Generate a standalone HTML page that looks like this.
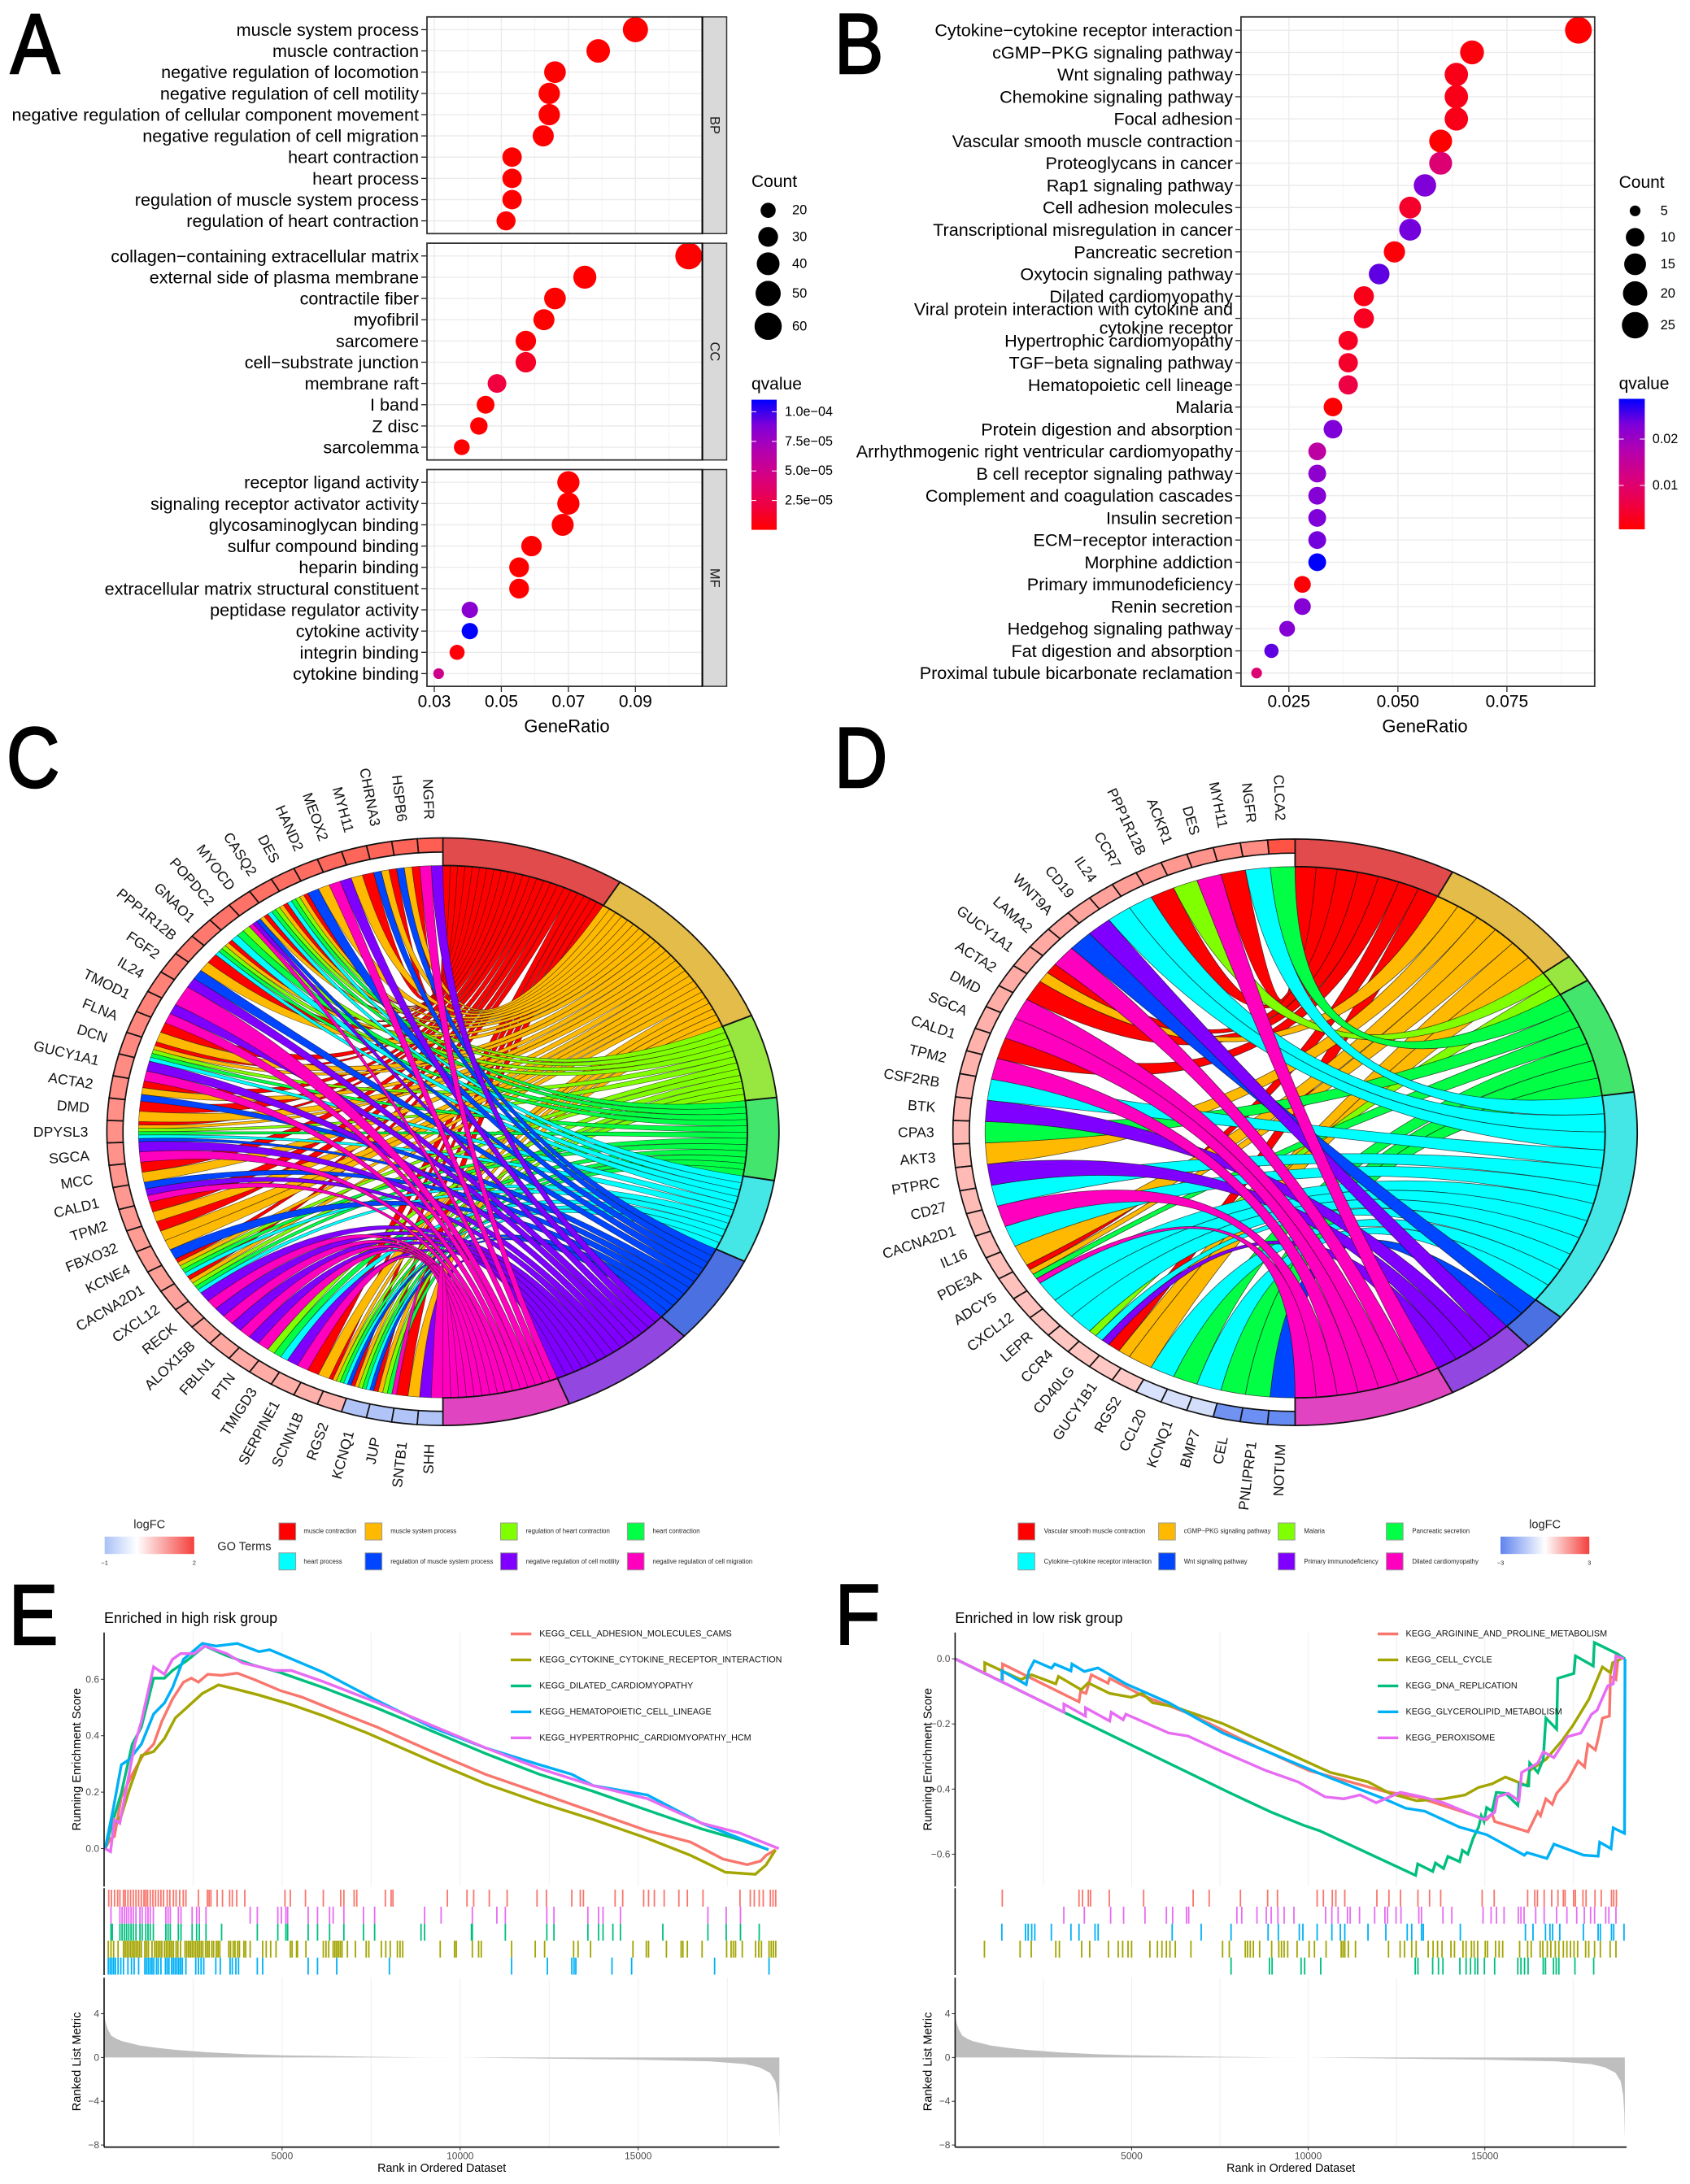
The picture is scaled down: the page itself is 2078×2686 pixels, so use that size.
<!DOCTYPE html>
<html lang="en">
<head>
<meta charset="utf-8">
<title>Enrichment analysis multi-panel figure</title>
<style>
html,body{margin:0;padding:0;background:#fff}
svg{display:block}
text{font-family:"Liberation Sans",sans-serif}
</style>
</head>
<body>
<svg id="fig" xmlns="http://www.w3.org/2000/svg" width="2078" height="2686" viewBox="0 0 2078 2686">
<defs>
<linearGradient id="qbar" x1="0" y1="1" x2="0" y2="0">
<stop offset="0" stop-color="#FF0000"/><stop offset=".2" stop-color="#EE0045"/><stop offset=".4" stop-color="#D7007F"/><stop offset=".6" stop-color="#B400AE"/><stop offset=".8" stop-color="#8000D8"/><stop offset="1" stop-color="#0000FF"/>
</linearGradient>
<linearGradient id="fcC"><stop offset="0" stop-color="#A9C1F7"/><stop offset=".36" stop-color="#FFFFFF"/><stop offset="1" stop-color="#F4403C"/></linearGradient>
<linearGradient id="fcD"><stop offset="0" stop-color="#5F83EE"/><stop offset=".5" stop-color="#FFFFFF"/><stop offset="1" stop-color="#F4403C"/></linearGradient>
</defs>
<g id="panel-a"></g>
<g id="panel-b"></g>
<g id="panel-c"></g>
<g id="panel-d"></g>
<g id="panel-e"></g>
<g id="panel-f"></g>
</svg>
<script>
/* ---------- Panel A data ---------- */
const aFacets = ["BP","CC","MF"];
const aTermsBP = ["muscle system process","muscle contraction","negative regulation of locomotion","negative regulation of cell motility","negative regulation of cellular component movement","negative regulation of cell migration","heart contraction","heart process","regulation of muscle system process","regulation of heart contraction"];
const aRatioBP = [0.09,0.0789,0.066,0.0643,0.0643,0.0625,0.0532,0.0532,0.0532,0.0514];
const aCountBP = [50,43,36,35,35,34,29,29,29,28];
const aQBP = [0,0,0,0,0,0,0,0,0,0];
const aTermsCC = ["collagen−containing extracellular matrix","external side of plasma membrane","contractile fiber","myofibril","sarcomere","cell−substrate junction","membrane raft","I band","Z disc","sarcolemma"];
const aRatioCC = [0.1059,0.0749,0.066,0.0627,0.0573,0.0573,0.0487,0.0453,0.0433,0.0382];
const aCountCC = [58,41,36,34,32,32,27,25,24,21];
const aQCC = [0,0,0,0,0.02e-4,0.12e-4,0.2e-4,0,0,0];
const aTermsMF = ["receptor ligand activity","signaling receptor activator activity","glycosaminoglycan binding","sulfur compound binding","heparin binding","extracellular matrix structural constituent","peptidase regulator activity","cytokine activity","integrin binding","cytokine binding"];
const aRatioMF = [0.07,0.07,0.0683,0.059,0.0553,0.0553,0.0406,0.0406,0.0368,0.0313];
const aCountMF = [38,38,37,32,30,30,22,22,20,17];
const aQMF = [0,0,0,0,0,0,0.84e-4,1.1e-4,0.03e-4,0.5e-4];
const aXTicks = [0.03,0.05,0.07,0.09];
const aCountLegend = [20,30,40,50,60];
const aQTicks = [1e-4,7.5e-5,5e-5,2.5e-5];
const aQLabels = ["1.0e−04","7.5e−05","5.0e−05","2.5e−05"];

/* ---------- Panel B data ---------- */
const bTerms = ["Cytokine−cytokine receptor interaction","cGMP−PKG signaling pathway","Wnt signaling pathway","Chemokine signaling pathway","Focal adhesion","Vascular smooth muscle contraction","Proteoglycans in cancer","Rap1 signaling pathway","Cell adhesion molecules","Transcriptional misregulation in cancer","Pancreatic secretion","Oxytocin signaling pathway","Dilated cardiomyopathy","Viral protein interaction with cytokine and\ncytokine receptor","Hypertrophic cardiomyopathy","TGF−beta signaling pathway","Hematopoietic cell lineage","Malaria","Protein digestion and absorption","Arrhythmogenic right ventricular cardiomyopathy","B cell receptor signaling pathway","Complement and coagulation cascades","Insulin secretion","ECM−receptor interaction","Morphine addiction","Primary immunodeficiency","Renin secretion","Hedgehog signaling pathway","Fat digestion and absorption","Proximal tubule bicarbonate reclamation"];
const bRatio = [0.0914,0.067,0.0634,0.0634,0.0634,0.0598,0.0598,0.0562,0.0528,0.0528,0.0492,0.0457,0.0422,0.0422,0.0386,0.0386,0.0386,0.0351,0.0351,0.0315,0.0315,0.0315,0.0315,0.0315,0.0315,0.0281,0.0281,0.0246,0.021,0.0176];
const bCount = [26,19,18,18,18,17,17,16,15,15,14,13,12,12,11,11,11,10,10,9,9,9,9,9,9,8,8,7,6,5];
const bQ = [0,0.001,0.002,0.002,0.002,0,0.01,0.0226,0.0034,0.0231,0.0006,0.024,0.002,0.0028,0.0028,0.0034,0.0056,0.0003,0.0226,0.0155,0.0212,0.022,0.0226,0.0231,0.0282,0.0006,0.022,0.022,0.024,0.01];
const bXTicks = [0.025,0.05,0.075];
const bXLabels = ["0.025","0.050","0.075"];
const bCountLegend = [5,10,15,20,25];
const bQTicks = [0.02,0.01];
const bQLabels = ["0.02","0.01"];

/* ---------- Panel C data ---------- */
const cTerms = ["muscle contraction","muscle system process","regulation of heart contraction","heart contraction","heart process","regulation of muscle system process","negative regulation of cell motility","negative regulation of cell migration"];
const cTermWeights = [31.8,34.9,16.6,16.3,16.6,17.9,23.8,22.1];
const cGenes = ["NGFR","HSPB6","CHRNA3","MYH11","MEOX2","HAND2","DES","CASQ2","MYOCD","POPDC2","GNAO1","PPP1R12B","FGF2","IL24","TMOD1","FLNA","DCN","GUCY1A1","ACTA2","DMD","DPYSL3","SGCA","MCC","CALD1","TPM2","FBXO32","KCNE4","CACNA2D1","CXCL12","RECK","ALOX15B","FBLN1","PTN","TMIGD3","SERPINE1","SCNN1B","RGS2","KCNQ1","JUP","SNTB1","SHH"];
const cLogFC = [1.55,1.5,1.5,1.48,1.46,1.42,1.4,1.38,1.36,1.34,1.3,1.28,1.24,1.22,1.2,1.16,1.14,1.12,1.1,1.08,1.06,1.04,1.02,1,0.98,0.96,0.94,0.92,0.9,0.88,0.86,0.84,0.82,0.8,0.78,0.76,0.74,-0.95,-0.95,-0.95,-0.95];
const cLinks = [[6,7],[0,1,5],[0,1,5],[0,1],[6,7],[1,5],[0,1,2,3,4],[0,1,2,3,4],[0,1,5,6,7],[2,3,4],[0,1,2,3,4],[0,1],[5,6],[7],[6,7],[0,1],[0,1,2,3,4],[6,7],[0,1,5],[0,1],[0,1,2,3,4,5],[6,7],[0,1],[5,6,7],[0,1],[0,1],[1,5],[0,1,2,3,4],[0,1,2,3,4],[6,7],[6,7],[6,7],[6,7],[2,3,4],[6,7],[0,1],[0,1,2,3,4,5],[0,1,2,3,4,5],[0,1,2,3,7],[0,1],[6,7]];

/* ---------- Panel D data ---------- */
const dTerms = ["Vascular smooth muscle contraction","cGMP−PKG signaling pathway","Malaria","Pancreatic secretion","Cytokine−cytokine receptor interaction","Wnt signaling pathway","Primary immunodeficiency","Dilated cardiomyopathy"];
const dTermWeights = [27.4,25.8,5.6,23.3,47,7.8,15.7,27.4];
const dGenes = ["CLCA2","NGFR","MYH11","DES","ACKR1","PPP1R12B","CCR7","IL24","CD19","WNT9A","LAMA2","GUCY1A1","ACTA2","DMD","SGCA","CALD1","TPM2","CSF2RB","BTK","CPA3","AKT3","PTPRC","CD27","CACNA2D1","IL16","PDE3A","ADCY5","CXCL12","LEPR","CCR4","CD40LG","GUCY1B1","RGS2","CCL20","KCNQ1","BMP7","CEL","PNLIPRP1","NOTUM"];
const dLogFC = [2.5,1.65,1.6,1.55,1.5,1.45,1.4,1.35,1.3,1.28,1.25,1.22,1.2,1.18,1.15,1.12,1.1,1.08,1.06,1.04,1.02,1,0.98,0.96,0.94,0.92,0.9,0.88,0.86,0.84,0.82,0.8,0.78,-0.7,-0.75,-0.8,-2.6,-2.7,-2.8];
const dLinks = [[3],[4],[0],[7],[2],[0],[4],[4],[6],[5],[7],[0,1],[0],[7],[7],[0],[7],[4],[6],[3],[1],[6],[4],[7],[4],[1],[0,1,3,7],[4],[4],[4],[2,4,6],[0,1],[1],[4],[3],[4],[3],[3],[5]];

/* ---------- Panel E data ---------- */
const eSeriesNames = ["KEGG_CELL_ADHESION_MOLECULES_CAMS","KEGG_CYTOKINE_CYTOKINE_RECEPTOR_INTERACTION","KEGG_DILATED_CARDIOMYOPATHY","KEGG_HEMATOPOIETIC_CELL_LINEAGE","KEGG_HYPERTROPHIC_CARDIOMYOPATHY_HCM"];
const eRed = [30,180,290,485,790,1090,1390,1620,1920,2230,2450,2650,2910,3290,3740,4200,4950,5560,6470,7680,9200,10710,12230,13740,15260,16470,17380,18060,18440,18590,18860];
const eRedES = [0,.036,.043,.183,.263,.33,.37,.45,.53,.59,.604,.59,.618,.614,.622,.60,.56,.537,.49,.43,.344,.263,.197,.13,.063,.023,-.037,-.057,-.044,-.024,-.004];
const eOlive = [30,180,485,710,1045,1390,1695,2000,2300,2760,3210,3740,4350,5260,6170,7380,9200,10710,12230,13740,15260,16470,17450,18290,18590,18860];
const eOliveES = [0,.076,.116,.21,.33,.344,.39,.463,.497,.55,.58,.564,.544,.51,.47,.41,.31,.23,.163,.103,.036,-.024,-.084,-.091,-.058,-.004];
const eGreen = [30,260,485,790,1045,1390,1695,1920,2300,2830,3440,4200,4950,6170,7680,9200,10710,12230,13740,15260,16780,17910,18660];
const eGreenES = [0,.103,.197,.37,.43,.604,.604,.631,.664,.718,.684,.65,.624,.57,.497,.417,.337,.263,.203,.136,.07,.029,-.004];
const eBlue = [30,260,485,710,1045,1390,1695,1920,2230,2760,3140,3740,4350,4650,6170,7680,9200,10710,12230,13140,13740,15260,16780,18660];
const eBlueES = [0,.143,.297,.316,.37,.477,.516,.57,.671,.727,.718,.727,.698,.705,.624,.524,.43,.357,.297,.263,.223,.19,.09,-.004];
const ePink = [30,180,290,440,640,860,1045,1390,1695,1920,2150,2530,2830,3440,3890,4800,5260,6170,7680,9200,10710,12230,13740,15260,16780,17840,18950];
const ePinkES = [0,-.011,.103,.09,.223,.37,.45,.644,.618,.671,.691,.691,.718,.691,.658,.631,.631,.591,.517,.437,.357,.284,.223,.177,.09,.056,0];
const eRugRed = [130,205,293,381,444,544,594,669,744,819,895,970,1045,1120,1170,1220,1296,1371,1446,1521,1596,1671,1772,1847,1947,2022,2122,2223,2298,2649,2899,2949,3000,3175,3325,3526,3601,3726,3952,5080,5230,5656,6157,6646,6734,7022,7097,7899,8062,8112,9641,10192,10380,10818,11319,12159,12422,13136,13374,13462,14352,14565,15154,15291,15454,15730,16143,16381,16820,17860,18148,18261,18399,18512,18712,18787,18863];
const eRugPink = [193,444,506,569,631,694,757,819,895,1007,1070,1170,1233,1296,1383,1734,1797,1859,2085,2160,2473,2599,2674,2862,4102,4303,4879,4979,5105,5155,5731,5994,6333,6433,6734,7285,7598,9001,9465,10342,11031,11269,12434,12634,13587,13888,14013,14502,16958,17472,17873];
const eRugGreen = [193,230,444,506,569,631,694,757,819,895,1007,1070,1170,1233,1296,1383,1734,1797,1859,2085,2160,2473,2599,2674,2862,3300,4303,4879,5105,5155,5731,5994,6333,6734,7285,7598,8901,9001,10317,10342,11269,12434,12634,13587,13888,14013,14289,14502,15692,16958,17472,17873,18399];
const eRugOlive = [118,193,268,393,544,594,644,694,744,794,844,895,945,995,1045,1145,1195,1245,1346,1421,1471,1521,1571,1621,1696,1747,1797,1847,1897,1947,2022,2072,2148,2273,2323,2373,2423,2473,2523,2574,2624,2674,2724,2774,2849,2899,2949,3025,3075,3150,3200,3250,3501,3551,3626,3676,3751,3801,3927,3977,4102,4453,4553,4678,4829,5230,5280,5405,5430,5668,6157,6232,6308,6433,6483,6533,6583,6633,6683,6834,7059,7360,7435,7786,7911,8037,8237,8312,8387,9440,9841,9891,10342,10518,10593,11445,12109,12372,13186,13312,13663,14853,15228,15291,15793,16206,16256,16381,16795,17484,17610,17672,17735,17923,18298,18387,18462,18675,18738,18800,18863];
const eRugBlue = [118,168,218,268,318,393,469,544,669,769,844,970,1145,1195,1245,1296,1346,1396,1471,1521,1596,1722,1772,1822,1897,1947,1997,2047,2097,2148,2198,2298,2574,2649,2724,2799,3137,3263,3538,3601,3701,3776,4303,4453,5731,5994,6533,8012,11445,12449,13136,13199,13249,14264,14816,17146,18675];

/* ---------- Panel F data ---------- */
const fSeriesNames = ["KEGG_ARGININE_AND_PROLINE_METABOLISM","KEGG_CELL_CYCLE","KEGG_DNA_REPLICATION","KEGG_GLYCEROLIPID_METABOLISM","KEGG_PEROXISOME"];
const fRed = [0,1342,1342,3508,3553,3706,3858,4331,4377,5292,6664,8494,10019,12154,13069,15052,15204,15280,16226,16500,16577,16729,16912,17034,17339,17644,17827,17919,18132,18224,18330,18529,18559,18712,18773];
const fRedES = [0,-.071,-.016,-.132,-.10,-.106,-.049,-.075,-.06,-.112,-.17,-.268,-.343,-.407,-.424,-.494,-.476,-.5,-.531,-.47,-.482,-.43,-.447,-.413,-.375,-.314,-.332,-.262,-.28,-.239,-.182,-.176,-.054,-.064,0];
const fOlive = [0,839,839,1861,2166,2852,2928,3569,3767,4377,4987,5292,5597,6207,7579,9104,10629,11087,11697,12307,13069,13832,14442,14823,15204,15586,16196,16272,16729,17187,17492,17949,18330,18559,18621,18865];
const fOliveES = [0,-.045,-.012,-.064,-.049,-.077,-.054,-.095,-.074,-.106,-.118,-.106,-.135,-.147,-.199,-.274,-.349,-.361,-.378,-.413,-.436,-.43,-.418,-.395,-.384,-.363,-.39,-.343,-.309,-.251,-.205,-.124,-.025,-.043,-.012,0];
const fGreen = [0,3080,7808,8952,9867,10324,13039,13100,13527,13603,13832,13954,14289,14366,14518,14671,14823,14899,14976,15052,15204,15326,15586,15936,15967,16241,16272,16501,16653,16729,17034,17065,17522,17568,18071,18102,18758,18971];
const fGreenES = [0,-.164,-.413,-.471,-.511,-.528,-.665,-.63,-.653,-.627,-.644,-.607,-.623,-.588,-.6,-.551,-.517,-.482,-.5,-.457,-.468,-.41,-.413,-.45,-.384,-.39,-.32,-.349,-.309,-.182,-.216,-.06,-.045,.009,-.022,.05,.015,0];
const fBlue = [0,1327,1327,2013,2089,2242,2730,2821,3279,3309,3660,4041,4834,6054,7579,9104,10629,12154,12764,13298,14289,15052,16119,16196,16760,16958,17797,18208,18254,18575,18636,18956,18971];
const fBlueES = [0,-.071,-.037,-.079,-.037,-.006,-.029,-.016,-.037,-.016,-.039,-.028,-.077,-.135,-.228,-.297,-.366,-.43,-.459,-.468,-.517,-.54,-.603,-.595,-.613,-.569,-.603,-.606,-.563,-.583,-.519,-.536,0];
const fPink = [0,3080,3080,3691,3691,4377,4423,4758,4834,6054,6588,7579,8799,9714,10477,11011,11468,11926,12612,13222,13832,14976,15281,15357,15662,15967,16043,16501,16653,16958,17339,17721,18026,18178,18483,18636,18712,18941];
const fPinkES = [0,-.164,-.139,-.176,-.15,-.191,-.164,-.187,-.17,-.228,-.237,-.286,-.343,-.378,-.424,-.43,-.418,-.442,-.41,-.424,-.442,-.494,-.471,-.424,-.413,-.436,-.349,-.32,-.286,-.303,-.239,-.228,-.17,-.158,-.083,-.077,.009,0];
const fRugRed = [1335,3508,3609,3773,3836,4366,5339,6741,7195,8080,8850,9128,10252,10429,10681,10782,11035,11944,12285,12614,13106,13435,13751,14925,15266,16213,16415,16491,16681,16895,17072,17224,17274,17514,17565,17779,17868,18121,18297,18588,18651,18727];
const fRugPink = [3078,3659,4404,4771,5377,5983,6160,6551,6615,7979,8117,8547,8812,8951,9141,9317,9595,10492,10669,10846,11111,11187,11452,11881,12172,12247,12487,12626,13132,13207,13814,14066,14950,15178,15330,15545,15948,16024,16112,16441,16681,17033,17325,17603,17818,17995,18108,18424,18513,18714];
const fRugBlue = [1323,1992,2068,2169,2257,2725,3280,3508,3962,4050,6147,6968,7814,8863,9153,9747,9848,10252,10669,10909,11035,11692,12197,12803,12930,13207,13258,14306,16150,16365,16719,16845,16921,17123,17792,18209,18272,18588,18651,18942];
const fRugOlive = [830,1840,2156,2851,2952,3583,3811,4341,4619,4745,4897,4998,5516,5730,5857,5983,6084,6236,6678,7574,7764,8218,8282,8358,8446,8623,8964,9166,9242,9317,9418,9684,10025,10176,10505,10934,10985,11035,11136,11338,12273,12601,12727,12930,13056,13397,13536,13662,13788,14041,14141,14381,14470,14622,14697,14798,15013,15077,15304,15405,15506,15986,16213,16314,16567,16643,16769,16870,16996,17097,17224,17325,17426,17527,17628,17855,17943,18108,18272,18550,18714];
const fRugGreen = [7814,8901,8976,9797,9898,10353,13030,13106,13523,13688,13814,14294,14470,14596,14723,14798,14988,15278,15935,16024,16125,16226,16655,16719,16946,17022,17097,17552,18083];

/* ---------- Shared ranked metric ---------- */
const metricRank = [0,40,100,200,350,500,1000,1500,2000,3000,4000,5000,7500,9000,10000,12500,15000,17000,18000,18400,18700,18850,18920,18950,18965];
const metricValue = [4,3.2,2.6,2.0,1.7,1.5,1.1,.88,.7,.45,.3,.2,.07,.01,0,-.1,-.2,-.35,-.6,-.9,-1.4,-2.2,-3.5,-5,-7.5];
const gseaXTicks = [5000,10000,15000];
const gseaGrid = [2500,5000,7500,10000,12500,15000,17500];
const metricTicks = [4,0,-4,-8];
const eESTicks = [0.6,0.4,0.2,0];
const fESTicks = [0,-0.2,-0.4,-0.6];

const palette = ["#F8766D","#A3A500","#00BF7D","#00B0F6","#E76BF3"];
const ribbonColors = ["#FF0000","#FFB900","#80FF00","#00FF45","#00FFFF","#0045FF","#8000FF","#FF00BF"];
const bandColors = ["#E24B4B","#E4BC4A","#98E640","#44E56C","#44E6E6","#4A70E2","#9248E0","#E044C0"];

/* ---------- helpers ---------- */
const NS = "http://www.w3.org/2000/svg";
function mk(parent, tag, attrs, name, content, active) {
  const el = document.createElementNS(NS, tag);
  for (const k in attrs) el.setAttribute(k, attrs[k]);
  
  
  if (content !== undefined) el.textContent = content;
  parent.appendChild(el);
  return el;
}
function label(parent, x, y, str, size, anchor, name, extra) {
  return mk(parent, "text", Object.assign({x:x, y:y, "font-size":size, "text-anchor":anchor||"start", "dominant-baseline":"central", fill:"#000"}, extra||{}), name, str);
}
function slug(s){ return s.toLowerCase().replace(/[^a-z0-9]+/g,"-").replace(/^-|-$/g,""); }
function letter(parent, x, y, ch) {
  mk(parent, "text", {transform:`translate(${x},${y}) scale(.86,1)`, "font-size":105, fill:"#000", stroke:"#000", "stroke-width":2.6}, "panel-letter-"+ch.toLowerCase(), ch);
}
const gradStops = [[0,[255,0,0]],[.2,[238,0,69]],[.4,[215,0,127]],[.6,[180,0,174]],[.8,[128,0,216]],[1,[0,0,255]]];
function gradColor(t) {
  t = Math.max(0, Math.min(1, t));
  for (let i = 1; i < gradStops.length; i++) {
    if (t <= gradStops[i][0]) {
      const a = gradStops[i-1], b = gradStops[i], f = (t-a[0])/(b[0]-a[0]);
      return "rgb(" + a[1].map((c,j)=>Math.round(c+(b[1][j]-c)*f)).join(",") + ")";
    }
  }
  return "rgb(0,0,255)";
}
function hline(p, x1, x2, y, stroke, w, name){ mk(p,"line",{x1:x1,x2:x2,y1:y,y2:y,stroke:stroke,"stroke-width":w},name); }
function vline(p, x, y1, y2, stroke, w, name){ mk(p,"line",{x1:x,x2:x,y1:y1,y2:y2,stroke:stroke,"stroke-width":w},name); }

/* ---------- Dot plots ---------- */
function dotFacet(p, cfg, terms, ratio, count, q) {
  const {left,right,top,bottom,xOf,rOf,qMax,gridMajor,gridMinor,tickLeft} = cfg;
  mk(p,"rect",{x:left,y:top,width:right-left,height:bottom-top,fill:"#fff"},"plot-background");
  const step = (bottom-top)/(terms.length-1+1.2);
  const yOf = i => top + step*(0.6+i);
  gridMinor.forEach(v=>vline(p,xOf(v),top,bottom,"#F0F0F0",.8,"grid-minor-x"));
  gridMajor.forEach(v=>vline(p,xOf(v),top,bottom,"#EBEBEB",1.4,"grid-major-x"));
  terms.forEach((t,i)=>hline(p,left,right,yOf(i),"#EBEBEB",1.4,"grid-major-y"));
  terms.forEach((t,i)=>{
    const y = yOf(i);
    hline(p,left-7,left,y,"#222",1.3,"y-tick");
    const lines = t.split("\n");
    lines.forEach((ln,j)=>{
      const yy = lines.length>1 ? y + (j===0?-11.5:11.5) : y;
      label(p,tickLeft,yy,ln,21.6,"end","term-label-"+slug(ln));
    });
  });
  terms.forEach((t,i)=>{
    mk(p,"circle",{cx:xOf(ratio[i]),cy:yOf(i),r:rOf(count[i]),fill:gradColor(q[i]/qMax)},"dot-"+slug(t));
  });
  mk(p,"rect",{x:left,y:top,width:right-left,height:bottom-top,fill:"none",stroke:"#333","stroke-width":1.8},"panel-border");
}
function dotLegends(p, cfg) {
  const {barX,barW,countX,countLabelX,countYs,counts,rOf,barTop,barBottom,qOf,qTicks,qLabels,qLabelX} = cfg;
  label(p,barX,cfg.countTitleY,"Count",21,"start","count-legend-title");
  counts.forEach((c,i)=>{
    mk(p,"circle",{cx:countX,cy:countYs[i],r:rOf(c),fill:"#000"},"count-legend-dot-"+c);
    label(p,countLabelX,countYs[i],String(c),16.5,"start","count-legend-label-"+c);
  });
  label(p,barX,cfg.qTitleY,"qvalue",21,"start","qvalue-legend-title");
  mk(p,"rect",{x:barX,y:barTop,width:barW,height:barBottom-barTop,fill:"url(#qbar)"},"qvalue-colorbar");
  qTicks.forEach((v,i)=>{
    const y = qOf(v);
    hline(p,barX,barX+6,y,"#fff",1,"qvalue-tick");
    hline(p,barX+barW-6,barX+barW,y,"#fff",1,"qvalue-tick");
    label(p,qLabelX,y,qLabels[i],16.2,"start","qvalue-label");
  });
}

(function panelA(){
  const p = document.getElementById("panel-a");
  letter(p,13,90,"A");
  const xOf = v => 534 + (v-0.03)*4122;
  const rOf = c => 6.6 + 9.9*Math.sqrt(Math.max(0,c-17)/41);
  const facets = [
    {top:20.8,bottom:287.3,t:aTermsBP,r:aRatioBP,c:aCountBP,q:aQBP},
    {top:299.1,bottom:565.7,t:aTermsCC,r:aRatioCC,c:aCountCC,q:aQCC},
    {top:577.5,bottom:844.1,t:aTermsMF,r:aRatioMF,c:aCountMF,q:aQMF}
  ];
  facets.forEach((f,i)=>{
    dotFacet(p,{left:525,right:863.6,top:f.top,bottom:f.bottom,xOf,rOf,qMax:1.1e-4,gridMajor:aXTicks,gridMinor:[0.04,0.06,0.08,0.1],tickLeft:515},f.t,f.r,f.c,f.q);
    mk(p,"rect",{x:863.6,y:f.top,width:29.9,height:f.bottom-f.top,fill:"#D9D9D9",stroke:"#333","stroke-width":1.5},"facet-strip-"+aFacets[i].toLowerCase());
    vline(p,863.6,f.top,f.bottom,"#000",2,"facet-strip-edge");
    mk(p,"text",{transform:`translate(878.5,${(f.top+f.bottom)/2}) rotate(90)`,"font-size":16.5,"text-anchor":"middle","dominant-baseline":"central",fill:"#1a1a1a"},"facet-label-"+aFacets[i].toLowerCase(),aFacets[i]);
  });
  aXTicks.forEach(v=>{
    vline(p,xOf(v),844.1,851,"#222",1.3,"x-tick");
    label(p,xOf(v),863,v.toFixed(2),21,"middle","x-tick-label");
  });
  label(p,697,893,"GeneRatio",22,"middle","x-axis-title");
  dotLegends(p,{barX:924,barW:31,countX:944.5,countLabelX:974,countYs:[258.7,291.3,324.4,360.9,401.3],counts:aCountLegend,rOf,countTitleY:223.4,qTitleY:472.5,barTop:491.6,barBottom:651.6,qOf:v=>652-v/2.5e-5*36.4,qTicks:aQTicks,qLabels:aQLabels,qLabelX:965});
})();

(function panelB(){
  const p = document.getElementById("panel-b");
  letter(p,1026,90,"B");
  const xOf = v => 1584.8 + (v-0.025)*5362;
  const rOf = c => 6.6 + 9.9*Math.sqrt(Math.max(0,c-5)/21);
  dotFacet(p,{left:1525.9,right:1960.8,top:20.8,bottom:844.1,xOf,rOf,qMax:0.0282,gridMajor:bXTicks,gridMinor:[0.0375,0.0625,0.0875],tickLeft:1516},bTerms,bRatio,bCount,bQ);
  bXTicks.forEach((v,i)=>{
    vline(p,xOf(v),844.1,851,"#222",1.3,"x-tick");
    label(p,xOf(v),863,bXLabels[i],21,"middle","x-tick-label");
  });
  label(p,1752,893,"GeneRatio",22,"middle","x-axis-title");
  dotLegends(p,{barX:1990.6,barW:31.8,countX:2010.5,countLabelX:2041.6,countYs:[259.3,291.8,325,360.9,400],counts:bCountLegend,rOf,countTitleY:224.5,qTitleY:472,barTop:490.5,barBottom:651,qOf:v=>654-v/0.01*57,qTicks:bQTicks,qLabels:bQLabels,qLabelX:2031.7});
})();

/* ---------- Chord diagrams ---------- */
function chord(p, cfg, genes, logFC, links, weights, fcMax) {
  const {cx,cy,rx,ry} = cfg;
  const rRibbon=.906, rRing=.952;
  const rad = d => d*Math.PI/180;
  const pt = (deg,r) => [cx+rx*r*Math.sin(rad(deg)), cy-ry*r*Math.cos(rad(deg))];
  const fmt = q => q[0].toFixed(2)+" "+q[1].toFixed(2);
  const sector = (a0,a1,r0,r1) => {
    return `M${fmt(pt(a0,r1))}A${rx*r1} ${ry*r1} 0 0 1 ${fmt(pt(a1,r1))}L${fmt(pt(a1,r0))}A${rx*r0} ${ry*r0} 0 0 0 ${fmt(pt(a0,r0))}Z`;
  };
  const cell = 180/genes.length;
  let edges=[0];
  weights.forEach(w=>edges.push(edges[edges.length-1]+w));
  const nPerTerm = weights.map((w,t)=>links.filter(l=>l.includes(t)).length);
  const termUsed = weights.map(()=>0);
  // ribbons
  const ribbons = [];
  for (let t=0;t<weights.length;t++) {
    genes.forEach((g,k)=>{
      const idx = links[k].indexOf(t);
      if (idx<0) return;
      const unit = (edges[t+1]-edges[t])/nPerTerm[t];
      const t0 = edges[t]+unit*termUsed[t], t1 = t0+unit;
      termUsed[t]++;
      const gw = cell/links[k].length;
      const g0 = -(k*cell+idx*gw), g1 = g0-gw;
      ribbons.push({t,g,d:`M${fmt(pt(t0,rRibbon))}A${rx*rRibbon} ${ry*rRibbon} 0 0 1 ${fmt(pt(t1,rRibbon))}Q${cx} ${cy} ${fmt(pt(g1,rRibbon))}A${rx*rRibbon} ${ry*rRibbon} 0 0 1 ${fmt(pt(g0,rRibbon))}Q${cx} ${cy} ${fmt(pt(t0,rRibbon))}Z`});
    });
  }
  ribbons.forEach(r=>{
    mk(p,"path",{d:r.d,fill:ribbonColors[r.t],stroke:"#111","stroke-width":cfg.ribbonStroke,"stroke-opacity":.7},"ribbon-"+slug(r.g)+"-term-"+r.t);
  });
  // term band
  weights.forEach((w,t)=>{
    mk(p,"path",{d:sector(edges[t],edges[t+1],rRibbon,1),fill:bandColors[t],stroke:"#111","stroke-width":1.8},"term-band-"+t);
  });
  // gene cells & labels
  genes.forEach((g,k)=>{
    const a0 = -(k+1)*cell, a1 = -k*cell;
    const v = logFC[k];
    const f = Math.min(1,Math.abs(v)/fcMax);
    const c = v>=0 ? [255,255-f*207,255-f*223] : [255-f*165,255-f*125,255-f*15];
    mk(p,"path",{d:sector(a0,a1,rRing,1),fill:`rgb(${c.map(Math.round).join(",")})`,stroke:"#111","stroke-width":1.7},"gene-cell-"+slug(g));
    const th = (k+.5)*cell;
    const e = pt(-th,1);
    const s2 = Math.sin(rad(2*th));
    const off = 23 - 9*s2*s2;
    const x = e[0]-off*Math.sin(rad(th)), y = e[1]-off*Math.cos(rad(th));
    mk(p,"text",{transform:`translate(${x.toFixed(1)},${y.toFixed(1)}) rotate(${(90-th).toFixed(1)})`,"font-size":17.6,"text-anchor":"end","dominant-baseline":"central",fill:"#111"},"gene-label-"+slug(g),g);
  });
}
function chordLegend(p, terms, xs, lxs, layout) {
  const order=[0,1,2,3,4,5,6,7];
  order.forEach(i=>{
    const col=i%4, row=i<4?0:1;
    const y = row===0?1873:1909.8, ly = row===0?1883:1920.5;
    mk(p,"rect",{x:xs[col],y:y,width:20.6,height:21,fill:ribbonColors[i],stroke:"#999","stroke-width":1},"legend-swatch-"+slug(terms[i]));
    label(p,lxs[col],ly,terms[i],7.8,"start","legend-label-"+slug(terms[i]),{fill:"#222"});
  });
  const g = layout;
  label(p,(g.x0+g.x1)/2+g.titleShift,1875.7,"logFC",14.6,"middle","logfc-legend-title",{fill:"#222"});
  mk(p,"rect",{x:g.x0,y:1889.8,width:g.x1-g.x0,height:21.4,fill:"url(#"+g.grad+")"},"logfc-colorbar");
  label(p,g.x0,1922,g.lo,7.5,"middle","logfc-min-label",{fill:"#222"});
  label(p,g.x1,1922,g.hi,7.5,"middle","logfc-max-label",{fill:"#222"});
}
(function panelC(){
  const p = document.getElementById("panel-c");
  letter(p,8,968,"C");
  chord(p,{cx:544.6,cy:1391.8,rx:413.2,ry:361.3,ribbonStroke:.6},cGenes,cLogFC,cLinks,cTermWeights,2);
  chordLegend(p,cTerms,[343,449,615.5,771.4],[373.4,480.2,646.7,802.5],{x0:128.7,x1:238.8,grad:"fcC",lo:"−1",hi:"2",titleShift:0});
  label(p,267.3,1902.5,"GO Terms",14.6,"start","go-terms-legend-title",{fill:"#222"});
})();
(function panelD(){
  const p = document.getElementById("panel-d");
  letter(p,1026,968,"D");
  chord(p,{cx:1592.4,cy:1392.5,rx:420.7,ry:360.6,ribbonStroke:.8},dGenes,dLogFC,dLinks,dTermWeights,3);
  chordLegend(p,dTerms,[1251.8,1424.6,1571.6,1704.6],[1283.6,1455.7,1603.4,1736.4],{x0:1845,x1:1954.2,grad:"fcD",lo:"−3",hi:"3",titleShift:0});
})();

/* ---------- GSEA panels ---------- */
function gsea(p, cfg, curves, rugs, names) {
  const {left,right,xOf,esOf,esTicks} = cfg;
  const topA=2007.7, topB=2320.2, bottomA=2432.3, bottomB=2640.6;
  const mOf = v => 2530.4 - v*13.46;
  label(p,left,1990,cfg.title,18,"start","plot-title");
  gseaGrid.forEach(v=>{
    vline(p,xOf(v),topA,topB,"#EFEFEF",1,"grid-x-es");
    vline(p,xOf(v),bottomA,bottomB,"#EFEFEF",1,"grid-x-metric");
  });
  esTicks.forEach(v=>{
    hline(p,left-4,left,esOf(v),"#333",1,"es-y-tick");
    label(p,left-6,esOf(v),v===0?"0.0":v.toFixed(1).replace("-","−"),12,"end","es-y-tick-label",{fill:"#4d4d4d"});
  });
  curves.forEach((c,i)=>{
    const pts = c.rank.map((r,j)=>xOf(r).toFixed(1)+","+esOf(c.es[j]).toFixed(1)).join(" ");
    mk(p,"polyline",{points:pts,fill:"none",stroke:palette[i],"stroke-width":3.4,"stroke-linejoin":"miter"},"es-curve-"+slug(names[i]));
  });
  names.forEach((n,i)=>{
    const y = 2009.5 + i*31.95;
    mk(p,"line",{x1:cfg.legX,x2:cfg.legX+25.3,y1:y,y2:y,stroke:palette[i],"stroke-width":3.4},"legend-line-"+slug(n));
    label(p,cfg.legTextX,y,n,10.8,"start","legend-label-"+slug(n),{fill:"#111"});
  });
  rugs.forEach((r,row)=>{
    const y0 = 2324 + row*20.9;
    r.ranks.forEach(v=>{
      vline(p,xOf(v),y0,y0+20.9,palette[r.color],1.8,"rug-tick");
    });
  });
  const area = "M"+xOf(metricRank[0])+" "+mOf(0)+metricRank.map((r,i)=>"L"+xOf(r).toFixed(1)+" "+mOf(metricValue[i]).toFixed(1)).join("")+"L"+xOf(metricRank[metricRank.length-1])+" "+mOf(0)+"Z";
  mk(p,"path",{d:area,fill:"#BEBEBE",stroke:"none"},"ranked-metric-area");
  metricTicks.forEach(v=>{
    hline(p,left-4,left,mOf(v),"#333",1,"metric-y-tick");
    label(p,left-6,mOf(v),String(v).replace("-","−"),12,"end","metric-y-tick-label",{fill:"#4d4d4d"});
  });
  vline(p,left,topA,topB,"#111",1.6,"es-y-axis");
  vline(p,left,topB+2,2429,"#111",1.6,"rug-y-axis");
  vline(p,left,bottomA,bottomB,"#111",1.6,"metric-y-axis");
  hline(p,left,right,bottomB,"#111",1.8,"x-axis");
  gseaXTicks.forEach(v=>{
    vline(p,xOf(v),bottomB,bottomB+4,"#333",1,"x-tick");
    label(p,xOf(v),2651.7,String(v),12,"middle","x-tick-label",{fill:"#4d4d4d"});
  });
  label(p,(left+right)/2-(cfg.titleShift||0),2667,"Rank in Ordered Dataset",14.3,"middle","x-axis-title");
  mk(p,"text",{transform:`translate(${left-33},2163.7) rotate(-90)`,"font-size":14.7,"text-anchor":"middle","dominant-baseline":"central",fill:"#000"},"es-y-axis-title","Running Enrichment Score");
  mk(p,"text",{transform:`translate(${left-33},2535.5) rotate(-90)`,"font-size":14.7,"text-anchor":"middle","dominant-baseline":"central",fill:"#000"},"metric-y-axis-title","Ranked List Metric");
}
(function panelE(){
  const p = document.getElementById("panel-e");
  letter(p,11,2022,"E");
  gsea(p,{left:128,right:958.4,xOf:r=>128+r*0.04378,esOf:v=>2273.5-v*347,esTicks:eESTicks,title:"Enriched in high risk group",legX:628,legTextX:663.3},
    [{rank:eRed,es:eRedES},{rank:eOlive,es:eOliveES},{rank:eGreen,es:eGreenES},{rank:eBlue,es:eBlueES},{rank:ePink,es:ePinkES}],
    [{ranks:eRugRed,color:0},{ranks:eRugPink,color:4},{ranks:eRugGreen,color:2},{ranks:eRugOlive,color:1},{ranks:eRugBlue,color:3}],
    eSeriesNames);
})();
(function panelF(){
  const p = document.getElementById("panel-f");
  letter(p,1027,2022,"F");
  gsea(p,{left:1174.4,right:2000,xOf:r=>1174.4+r*0.04342,esOf:v=>2040.1+(-v)*400.5,esTicks:fESTicks,title:"Enriched in low risk group",legX:1694,legTextX:1728.5},
    [{rank:fRed,es:fRedES},{rank:fOlive,es:fOliveES},{rank:fGreen,es:fGreenES},{rank:fBlue,es:fBlueES},{rank:fPink,es:fPinkES}],
    [{ranks:fRugRed,color:0},{ranks:fRugPink,color:4},{ranks:fRugBlue,color:3},{ranks:fRugOlive,color:1},{ranks:fRugGreen,color:2}],
    fSeriesNames);
})();
</script>
</body>
</html>
